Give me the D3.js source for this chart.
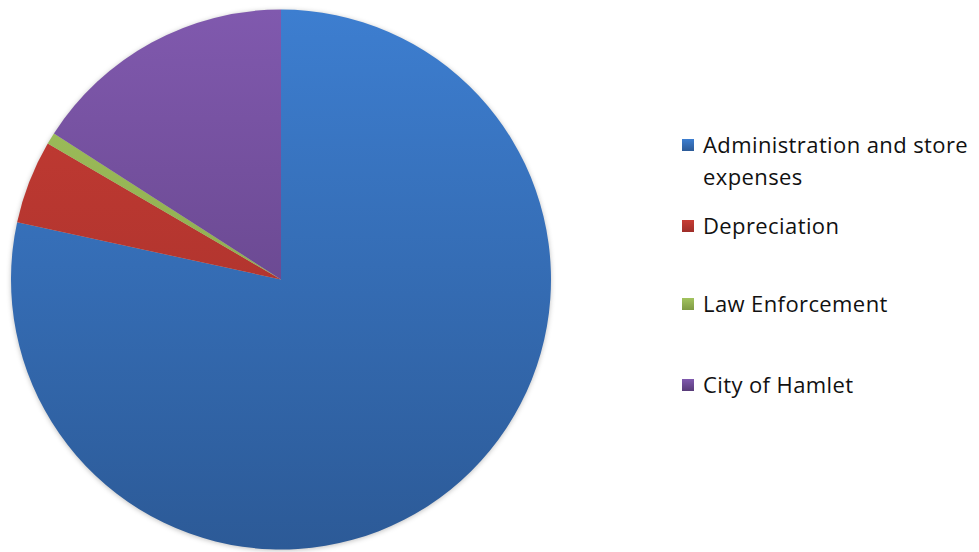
<!DOCTYPE html>
<html>
<head>
<meta charset="utf-8">
<script src="https://cdn.jsdelivr.net/npm/d3@7"></script>
<style>
  body { margin: 0; background: #fff; }
  svg { display: block; }
</style>
</head>
<body>
<svg width="979" height="552"></svg>
<script>
  // slice data (percent of total)
  const categories = ["Administration and store expenses", "Depreciation", "Law Enforcement", "City of Hamlet"]
  const values = [78.4, 5.0, 0.7, 15.9]
  const legendLines = [["Administration and store", "expenses"], ["Depreciation"], ["Law Enforcement"], ["City of Hamlet"]]
  const topColors = ["#3d7ed0", "#c73c34", "#a2c35e", "#8059ae"]
  const bottomColors = ["#2c5a97", "#9e2e29", "#7f9a44", "#583b78"]

  const cx = 281, cy = 279.5, radius = 270

  var svg = d3.select('svg')
  var defs = svg.append('defs')

  // soft shadow under the pie
  var blur = defs.append('filter').attr('id', 'shadow')
    .attr('x', '-10%').attr('y', '-10%').attr('width', '120%').attr('height', '120%')
  blur.append('feGaussianBlur').attr('stdDeviation', 2.5)

  // vertical gradients over the pie's full height (absolute units)
  categories.forEach(function (c, i) {
    var g = defs.append('linearGradient')
      .attr('id', 'grad' + i)
      .attr('gradientUnits', 'userSpaceOnUse')
      .attr('x1', 0).attr('y1', -radius)
      .attr('x2', 0).attr('y2', radius)
    g.append('stop').attr('offset', '0%').attr('stop-color', topColors[i])
    g.append('stop').attr('offset', '100%').attr('stop-color', bottomColors[i])
    // legend swatch gradient
    var lg = defs.append('linearGradient')
      .attr('id', 'lg' + i)
      .attr('x1', 0).attr('y1', 0).attr('x2', 0).attr('y2', 1)
    lg.append('stop').attr('offset', '0%').attr('stop-color', topColors[i])
    lg.append('stop').attr('offset', '100%').attr('stop-color', bottomColors[i])
  })

  var data = categories.map(function (c, i) { return { name: c, value: values[i], idx: i } })

  var pie = d3.pie()
    .sort(null)
    .value(function (d) { return d.value })
  var arc = d3.arc().innerRadius(0).outerRadius(radius)

  var chart = svg.append('g').attr('transform', 'translate(' + cx + ',' + cy + ')')

  chart.append('circle')
    .attr('r', radius)
    .attr('cy', 1)
    .attr('fill', 'rgba(0,0,0,0.25)')
    .attr('filter', 'url(#shadow)')

  chart.selectAll('path.slice')
    .data(pie(data))
    .enter().append('path')
      .attr('class', 'slice')
      .attr('d', arc)
      .attr('fill', function (d) { return 'url(#grad' + d.data.idx + ')' })

  // legend
  var itemY = [145, 226, 304, 385]
  var legend = svg.append('g').attr('class', 'legend')
  var items = legend.selectAll('g')
    .data(data)
    .enter().append('g')
      .attr('transform', function (d, i) { return 'translate(682,' + itemY[i] + ')' })
  items.append('rect')
    .attr('x', 0).attr('y', -6)
    .attr('width', 12).attr('height', 12)
    .attr('fill', function (d) { return 'url(#lg' + d.idx + ')' })
  items.append('text')
    .attr('x', 21)
    .attr('font-family', '"Open Sans", sans-serif')
    .attr('font-size', 22)
    .attr('letter-spacing', 0.4)
    .attr('fill', '#111')
    .selectAll('tspan')
    .data(function (d) { return legendLines[d.idx] })
    .enter().append('tspan')
      .attr('x', 21)
      .attr('dy', function (t, j) { return j === 0 ? '0.35em' : 32 })
      .text(function (t) { return t })
</script>
</body>
</html>
